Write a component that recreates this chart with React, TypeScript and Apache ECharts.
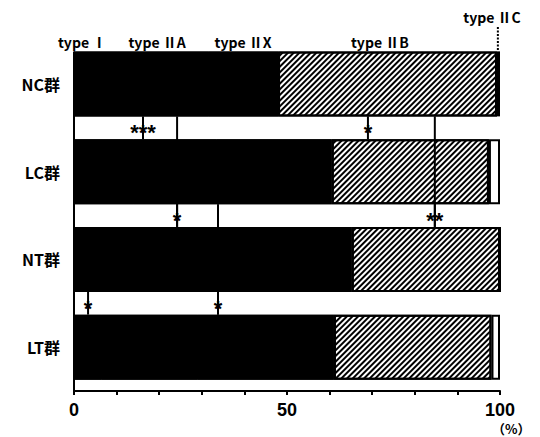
import React, { useEffect, useRef } from 'react';
import * as echarts from 'echarts';

// ---- data ----
const categories = ['NC群', 'LC群', 'NT群', 'LT群'];
const typeI = [10.1, 14.0, 6.0, 6.5];
const typeIIA = [21.4, 19.5, 26.5, 22.5];
const typeIIX = [16.4, 27.0, 32.7, 32.0];
const typeIIB = [51.4, 36.9, 34.8, 37.0];
const typeIIC = [0.7, 2.6, 0.0, 2.0];

const xTicks = [0, 50, 100];

// fiber-type labels above the top bar: [anchor x (%), text]
const typeLabelX = [1.9, 19.5, 39.7, 71.8];
const typeLabelText = ['type Ⅰ', 'type ⅡA', 'type ⅡX', 'type ⅡB'];
const typeIICLabelX = 98.6;
const typeIICLineX = 99.5;
const typeIICText = 'type ⅡC';

// connector lines spanning from one gap to another: [x (%), fromGap, toGap]
const bracketLines: [number, number, number][] = [
  [24.2, 1, 2],
  [84.7, 1, 2],
  [33.8, 2, 3],
];
// significance marks in the gaps between bars: [x (%), gap]
const sigX: [number, number][] = [
  [16.2, 1],
  [69.0, 1],
  [24.2, 2],
  [84.7, 2],
  [3.3, 3],
  [33.8, 3],
];
const sigText = ['***', '*', '*', '**', '*', '*'];

// ---- layout ----
const GRID_TOP = 40;
const GRID_BOTTOM = 46;
const GRID_LEFT = 74;
const GRID_RIGHT = 40;
const CHART_H = 437;
const BAND = (CHART_H - GRID_TOP - GRID_BOTTOM) / categories.length;
const BAR_W = 65;
const HALF = BAR_W / BAND / 2; // half bar height in band units
const gapTop = (g: number) => g - (0.5 - HALF);
const gapBottom = (g: number) => g + (0.5 - HALF);

export default function App() {
  const ref = useRef<HTMLDivElement>(null);

  useEffect(() => {
    if (!ref.current) return;
    const chart = echarts.init(ref.current, undefined, { renderer: 'svg' });

    const barSeries = (name: string, data: number[], color: string, bw: number, decal?: any) => ({
      type: 'bar',
      name,
      stack: 'total',
      data,
      barWidth: BAR_W,
      barGap: '-100%',
      yAxisIndex: 0,
      silent: true,
      z: 3,
      itemStyle: {
        color,
        borderColor: '#000',
        borderWidth: bw,
        ...(decal ? { decal } : {}),
      },
    });

    // solid black underlay of the three black fibre types (hides anti-alias seams)
    const blackTotal = typeI.map((v, i) => v + typeIIA[i] + typeIIX[i]);

    // line items: [x, y1, y2]
    const lineItems: number[][] = [];
    lineItems.push([0, 0.5 - HALF, categories.length]);
    bracketLines.forEach(([x, g1, g2]) => lineItems.push([x, gapTop(g1), gapBottom(g2)]));
    sigX.forEach(([x, g]) => lineItems.push([x, gapTop(g), gapBottom(g)]));

    const option: any = {
      animation: false,
      backgroundColor: '#fff',
      grid: { left: GRID_LEFT, right: GRID_RIGHT, top: GRID_TOP, bottom: GRID_BOTTOM },
      xAxis: {
        type: 'value',
        min: 0,
        max: 100,
        interval: 10,
        splitLine: { show: false },
        axisLine: { show: true, onZero: false, lineStyle: { color: '#000', width: 2 } },
        axisTick: { show: true, length: 4, lineStyle: { color: '#000', width: 2 } },
        axisLabel: {
          formatter: (v: number) => (xTicks.includes(v) ? String(v) : ''),
          color: '#000',
          fontSize: 18,
          fontWeight: 'bold',
          fontFamily: 'Liberation Sans',
          margin: 10,
        },
      },
      yAxis: [
        {
          type: 'category',
          data: categories,
          inverse: true,
          axisLine: { show: false },
          axisTick: { show: false },
          axisLabel: {
            color: '#000',
            fontSize: 16,
            fontWeight: 'bold',
            fontFamily: 'Noto Sans CJK JP',
            margin: 14,
          },
        },
        {
          type: 'value',
          min: 0,
          max: categories.length,
          inverse: true,
          show: false,
          axisLine: { show: false, onZero: false },
          splitLine: { show: false },
        },
      ],
      series: [
        {
          type: 'bar',
          name: 'black',
          data: blackTotal,
          barWidth: BAR_W,
          barGap: '-100%',
          yAxisIndex: 0,
          silent: true,
          z: 1,
          itemStyle: { color: '#000' },
        },
        barSeries('type Ⅰ', typeI, '#000', 0),
        barSeries('type ⅡA', typeIIA, '#000', 0),
        barSeries('type ⅡX', typeIIX, '#000', 0),
        barSeries('type ⅡB', typeIIB, '#fff', 2, {
          symbol: 'rect',
          symbolSize: 1,
          color: '#000',
          dashArrayX: [1, 0],
          dashArrayY: [1.8, 1.5],
          rotation: -Math.PI / 4,
        }),
        barSeries('type ⅡC', typeIIC, '#fff', 2),
        {
          type: 'custom',
          coordinateSystem: 'cartesian2d',
          xAxisIndex: 0,
          yAxisIndex: 1,
          silent: true,
          z: 10,
          encode: { x: 0, y: 1 },
          data: lineItems,
          renderItem: (_p: any, api: any) => {
            const a = api.coord([api.value(0), api.value(1)]);
            const b = api.coord([api.value(0), api.value(2)]);
            return {
              type: 'line',
              shape: { x1: a[0], y1: a[1], x2: b[0], y2: b[1] },
              style: { stroke: '#000', lineWidth: 2 },
            };
          },
        },
        {
          type: 'custom',
          coordinateSystem: 'cartesian2d',
          xAxisIndex: 0,
          yAxisIndex: 1,
          silent: true,
          z: 11,
          encode: { x: 0, y: 1 },
          data: sigX.map(([x, g]) => [x, g]),
          renderItem: (p: any, api: any) => {
            const c = api.coord([api.value(0), api.value(1)]);
            return {
              type: 'text',
              x: c[0],
              y: c[1] + 5,
              style: {
                text: sigText[p.dataIndex],
                fill: '#000',
                font: 'bold 22px "Liberation Sans"',
                align: 'center',
                verticalAlign: 'middle',
              },
            };
          },
        },
        {
          type: 'custom',
          coordinateSystem: 'cartesian2d',
          xAxisIndex: 0,
          yAxisIndex: 1,
          silent: true,
          z: 11,
          encode: { x: 0, y: 1 },
          data: typeLabelX.map((x) => [x, 0]),
          renderItem: (p: any, api: any) => {
            const c = api.coord([api.value(0), api.value(1)]);
            return {
              type: 'text',
              x: c[0],
              y: c[1] + 2,
              style: {
                text: typeLabelText[p.dataIndex],
                fill: '#000',
                font: 'bold 14px "Noto Sans CJK JP"',
                align: 'center',
                verticalAlign: 'middle',
              },
            };
          },
        },
        {
          type: 'custom',
          coordinateSystem: 'cartesian2d',
          xAxisIndex: 0,
          yAxisIndex: 1,
          silent: true,
          z: 11,
          encode: { x: 0, y: 1 },
          data: [[typeIICLabelX, 0]],
          renderItem: (_p: any, api: any) => {
            const c = api.coord([api.value(0), api.value(1)]);
            const l = api.coord([typeIICLineX, 0.5 - HALF]);
            return {
              type: 'group',
              children: [
                {
                  type: 'text',
                  x: c[0] - 2,
                  y: c[1] - 23,
                  style: {
                    text: typeIICText,
                    fill: '#000',
                    font: 'bold 14px "Noto Sans CJK JP"',
                    align: 'center',
                    verticalAlign: 'middle',
                  },
                },
                {
                  type: 'line',
                  shape: { x1: l[0], y1: c[1] - 13, x2: l[0], y2: l[1] },
                  style: { stroke: '#000', lineWidth: 2, lineDash: [2, 1.5] },
                },
              ],
            };
          },
        },
      ],
      graphic: [
        {
          type: 'text',
          left: 492,
          top: 422,
          style: {
            text: '（%）',
            fill: '#000',
            font: 'bold 13px "Noto Sans CJK JP"',
          },
        },
      ],
    };

    chart.setOption(option);
    return () => chart.dispose();
  }, []);

  return (
    <div
      ref={ref}
      style={{ position: 'absolute', left: 0, top: 0, width: 540, height: 437 }}
    />
  );
}
